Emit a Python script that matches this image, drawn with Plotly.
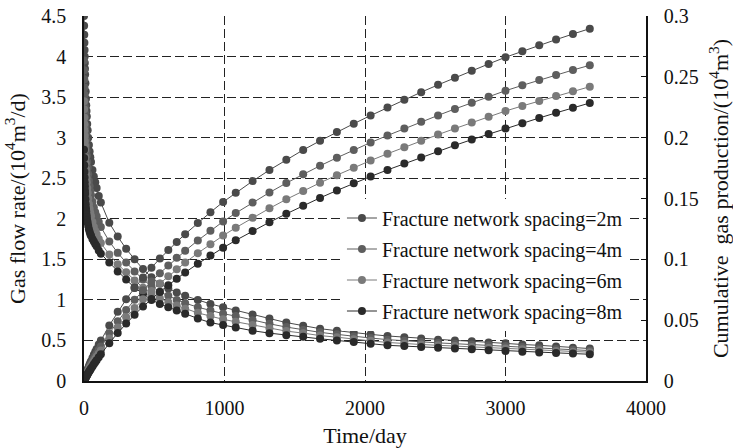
import plotly.graph_objects as go

# Time steps (days)
time_days = [0, 1, 2, 3, 4, 5, 6, 7, 8, 10, 12, 14, 16, 18, 20, 23, 26, 30, 35, 40, 45, 50,
             60, 70, 80, 90, 105, 120, 180, 240, 300, 360, 420, 480, 540, 600, 660, 720,
             810, 900, 990, 1080, 1200, 1320, 1440, 1560, 1680, 1800, 1920, 2040, 2160,
             2280, 2400, 2520, 2640, 2760, 2880, 3000, 3120, 3240, 3360, 3480, 3600]

# Gas flow rate, 10^4 m3/d
rate_2m = [4.50, 4.38, 4.27, 4.17, 4.08, 4.00, 3.92, 3.85, 3.78, 3.67, 3.57, 3.48, 3.40, 3.33,
           3.26, 3.17, 3.09, 3.00, 2.91, 2.83, 2.76, 2.70, 2.60, 2.52, 2.45, 2.38, 2.28, 2.20,
           1.95, 1.78, 1.63, 1.50, 1.38, 1.28, 1.20, 1.14, 1.09, 1.05, 1.00, 0.95, 0.91, 0.87,
           0.82, 0.77, 0.72, 0.68, 0.645, 0.62, 0.595, 0.575, 0.555, 0.54, 0.525, 0.51, 0.50,
           0.49, 0.475, 0.465, 0.45, 0.44, 0.425, 0.41, 0.40]
rate_4m = [3.95, 3.83, 3.72, 3.62, 3.53, 3.45, 3.38, 3.31, 3.25, 3.14, 3.05, 2.97, 2.90, 2.84,
           2.78, 2.70, 2.63, 2.55, 2.47, 2.40, 2.34, 2.29, 2.21, 2.14, 2.08, 2.03, 1.96, 1.90,
           1.72, 1.58, 1.46, 1.35, 1.25, 1.17, 1.10, 1.05, 1.00, 0.96, 0.91, 0.87, 0.83, 0.80,
           0.75, 0.705, 0.665, 0.63, 0.60, 0.575, 0.55, 0.53, 0.51, 0.495, 0.48, 0.47, 0.46,
           0.45, 0.44, 0.43, 0.42, 0.405, 0.395, 0.385, 0.375]
rate_6m = [3.45, 3.35, 3.25, 3.17, 3.09, 3.02, 2.96, 2.90, 2.85, 2.76, 2.68, 2.61, 2.55, 2.50,
           2.45, 2.38, 2.32, 2.25, 2.18, 2.12, 2.07, 2.03, 1.96, 1.90, 1.85, 1.81, 1.75, 1.70,
           1.56, 1.44, 1.34, 1.24, 1.15, 1.08, 1.02, 0.97, 0.93, 0.89, 0.84, 0.80, 0.76, 0.73,
           0.69, 0.65, 0.615, 0.59, 0.56, 0.54, 0.515, 0.495, 0.475, 0.46, 0.45, 0.44, 0.43,
           0.42, 0.41, 0.40, 0.39, 0.38, 0.37, 0.362, 0.355]
rate_8m = [2.85, 2.75, 2.66, 2.58, 2.51, 2.45, 2.40, 2.35, 2.31, 2.24, 2.18, 2.13, 2.09, 2.05,
           2.02, 1.98, 1.95, 1.91, 1.87, 1.84, 1.81, 1.79, 1.75, 1.72, 1.69, 1.66, 1.61, 1.57,
           1.46, 1.35, 1.25, 1.15, 1.07, 1.00, 0.95, 0.91, 0.87, 0.83, 0.77, 0.72, 0.69, 0.66,
           0.62, 0.59, 0.565, 0.545, 0.52, 0.50, 0.48, 0.46, 0.44, 0.43, 0.42, 0.41, 0.40,
           0.39, 0.38, 0.37, 0.36, 0.352, 0.345, 0.338, 0.33]

# Cumulative gas production, 10^4 m3 (right axis)
cum_2m = [0, 0.00044, 0.00088, 0.0013, 0.0017, 0.0021, 0.0025, 0.0029, 0.0033, 0.0040, 0.0048,
          0.0055, 0.0061, 0.0068, 0.0075, 0.0084, 0.0094, 0.0106, 0.0121, 0.0135, 0.0149,
          0.0163, 0.0189, 0.0215, 0.0240, 0.0264, 0.0299, 0.0332, 0.0457, 0.0569, 0.0671,
          0.0765, 0.0851, 0.0931, 0.1006, 0.1076, 0.1143, 0.1207, 0.1299, 0.1387, 0.1471,
          0.1547, 0.1643, 0.1734, 0.1819, 0.1899, 0.1974, 0.2046, 0.2115, 0.2182, 0.2248,
          0.2312, 0.2374, 0.2434, 0.2493, 0.2550, 0.2606, 0.2661, 0.2711, 0.2759, 0.2806,
          0.2852, 0.2896]
cum_4m = [0, 0.0004, 0.0008, 0.0011, 0.0015, 0.0018, 0.0022, 0.0025, 0.0028, 0.0035, 0.0041,
          0.0047, 0.0053, 0.0059, 0.0064, 0.0072, 0.0080, 0.0091, 0.0103, 0.0116, 0.0127,
          0.0139, 0.0162, 0.0183, 0.0204, 0.0225, 0.0255, 0.0284, 0.0392, 0.0491, 0.0583,
          0.0667, 0.0745, 0.0818, 0.0886, 0.0950, 0.1012, 0.1070, 0.1155, 0.1235, 0.1311,
          0.1380, 0.1467, 0.1549, 0.1627, 0.1700, 0.1769, 0.1835, 0.1899, 0.1960, 0.2018,
          0.2075, 0.2130, 0.2183, 0.2236, 0.2287, 0.2337, 0.2386, 0.2430, 0.2473, 0.2515,
          0.2556, 0.2595]
cum_6m = [0, 0.0003, 0.0007, 0.0010, 0.0013, 0.0016, 0.0019, 0.0022, 0.0025, 0.0031, 0.0036,
          0.0041, 0.0046, 0.0051, 0.0056, 0.0064, 0.0071, 0.0080, 0.0091, 0.0102, 0.0112,
          0.0122, 0.0142, 0.0162, 0.0180, 0.0199, 0.0225, 0.0251, 0.0349, 0.0439, 0.0523,
          0.0600, 0.0672, 0.0739, 0.0802, 0.0861, 0.0918, 0.0973, 0.1051, 0.1125, 0.1195,
          0.1260, 0.1342, 0.1419, 0.1493, 0.1562, 0.1629, 0.1692, 0.1753, 0.1812, 0.1868,
          0.1922, 0.1974, 0.2025, 0.2075, 0.2124, 0.2172, 0.2219, 0.2261, 0.2302, 0.2342,
          0.2381, 0.2419]
cum_8m = [0, 0.0003, 0.00055, 0.0008, 0.0011, 0.0013, 0.0016, 0.0018, 0.0020, 0.0025, 0.0029,
          0.0034, 0.0038, 0.0042, 0.0046, 0.0052, 0.0058, 0.0066, 0.0075, 0.0084, 0.0093,
          0.0102, 0.0120, 0.0138, 0.0155, 0.0171, 0.0196, 0.0220, 0.0311, 0.0395, 0.0473,
          0.0545, 0.0612, 0.0674, 0.0732, 0.0788, 0.0841, 0.0892, 0.0964, 0.1031, 0.1095,
          0.1156, 0.1232, 0.1305, 0.1374, 0.1441, 0.1505, 0.1566, 0.1625, 0.1681, 0.1735,
          0.1787, 0.1838, 0.1888, 0.1937, 0.1984, 0.2030, 0.2075, 0.2119, 0.2162, 0.2204,
          0.2245, 0.2285]

series_names = ["Fracture network spacing=2m", "Fracture network spacing=4m",
                "Fracture network spacing=6m", "Fracture network spacing=8m"]
series_colors = ["#4a4a4a", "#5e5e5e", "#7a7a7a", "#2a2a2a"]
rates = [rate_2m, rate_4m, rate_6m, rate_8m]
cums = [cum_2m, cum_4m, cum_6m, cum_8m]

FONT = "Liberation Serif"
TICK = dict(size=20, family=FONT, color="#111111")
TITLE = dict(size=22, family=FONT, color="#111111")

fig = go.Figure()
for name, color, q, cum in zip(series_names, series_colors, rates, cums):
    fig.add_trace(go.Scatter(
        x=time_days, y=q, name=name, legendgroup=name, showlegend=True,
        mode="lines+markers", line=dict(color=color, width=1),
        marker=dict(color=color, size=8), yaxis="y"))
    fig.add_trace(go.Scatter(
        x=time_days, y=cum, name=name, legendgroup=name, showlegend=False,
        mode="lines+markers", line=dict(color=color, width=1),
        marker=dict(color=color, size=8), yaxis="y2"))

# White panel behind the legend that masks the grid (drawn under the traces)
fig.add_shape(type="rect", xref="paper", yref="paper",
              x0=0.432, x1=0.997, y0=0.155, y1=0.50,
              fillcolor="white", line=dict(width=0), layer="between")

fig.update_layout(
    width=733, height=448,
    margin=dict(l=84, r=87, t=16, b=67, autoexpand=False),
    paper_bgcolor="white", plot_bgcolor="white",
    font=dict(family=FONT, size=20, color="#111111"),
    xaxis=dict(range=[0, 4000], dtick=1000, tick0=0, automargin=False,
               showgrid=True, gridcolor="#222222", griddash="9px,4px", gridwidth=1,
               showline=True, linecolor="#111111", linewidth=1.5,
               zeroline=False, ticks="", tickfont=TICK, ticklabelstandoff=8,
               title=dict(text="Time/day", font=TITLE, standoff=14)),
    yaxis=dict(range=[0, 4.5], dtick=0.5, tick0=0, automargin=False,
               showgrid=True, gridcolor="#222222", griddash="9px,4px", gridwidth=1,
               showline=True, linecolor="#111111", linewidth=1.5,
               zeroline=False, ticks="", tickfont=TICK, ticklabelstandoff=12,
               title=dict(text="Gas flow rate/(10<sup>4</sup>m<sup>3</sup>/d)",
                          font=TITLE, standoff=10)),
    yaxis2=dict(range=[0, 0.3], dtick=0.05, tick0=0, overlaying="y", side="right",
                automargin=False,
                showgrid=False, showline=True, linecolor="#111111", linewidth=1.5,
                zeroline=False, ticks="inside", ticklen=5, tickcolor="#111111",
                tickfont=TICK, ticklabelstandoff=12,
                title=dict(text="Cumulative  gas production/(10<sup>4</sup>m<sup>3</sup>)",
                           font=TITLE, standoff=15)),
    legend=dict(x=0.459, y=0.50, xanchor="left", yanchor="top",
                bgcolor="white", borderwidth=0,
                font=dict(size=20, family=FONT, color="#111111"),
                traceorder="grouped", tracegroupgap=2),
)

fig.write_html("out.html")
